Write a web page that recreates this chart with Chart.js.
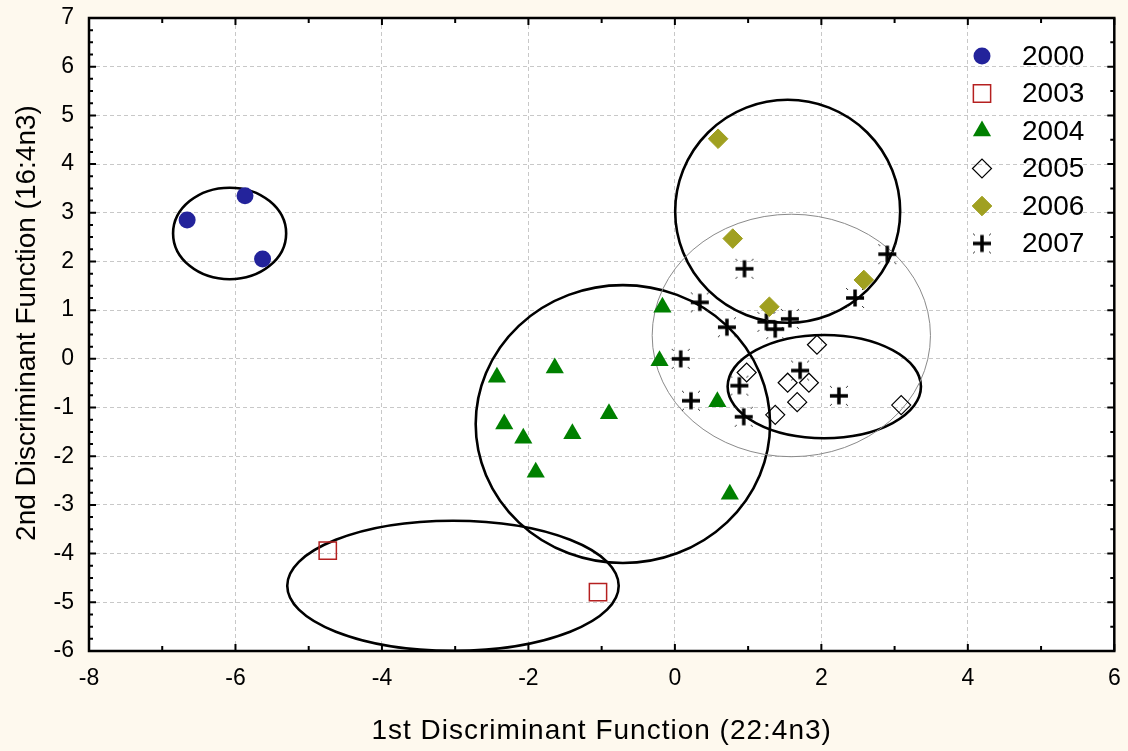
<!DOCTYPE html>
<html>
<head>
<meta charset="utf-8">
<script src="https://cdn.jsdelivr.net/npm/chart.js@4.4.0/dist/chart.umd.min.js"></script>
<style>
  html, body { margin: 0; padding: 0; background: #fef9ee; }
</style>
</head>
<body>
<canvas id="chart" width="1128" height="751"></canvas>
<script>
// group labels
const years = ['2000', '2003', '2004', '2005', '2006', '2007'];

// scores on the two discriminant functions, per year
const x2000 = [-6.66, -5.87, -5.63];
const y2000 = [2.85, 3.35, 2.05];
const x2003 = [-4.74, -1.05];
const y2003 = [-3.94, -4.79];
const x2004 = [-0.17, -0.21, -2.43, -1.64, -0.90, -2.33, -2.07, -1.40, -1.90, 0.58, 0.75];
const y2004 = [1.06, -0.04, -0.38, -0.19, -1.13, -1.34, -1.63, -1.54, -2.33, -0.88, -2.78];
const x2005 = [1.94, 0.98, 1.54, 1.83, 1.67, 1.37, 3.09];
const y2005 = [0.29, -0.28, -0.49, -0.49, -0.89, -1.15, -0.95];
const x2006 = [0.59, 0.79, 1.29, 2.58];
const y2006 = [4.52, 2.47, 1.07, 1.62];
const x2007 = [2.90, 0.95, 0.34, 2.46, 0.71, 1.25, 1.57, 1.37, 0.08, 0.22, 1.71, 0.88, 0.94, 2.24];
const y2007 = [2.15, 1.85, 1.16, 1.25, 0.65, 0.76, 0.82, 0.61, 0.00, -0.86, -0.24, -0.55, -1.19, -0.76];

// group ellipses (center and semi axes), same order as years
const ellipseCx = [-6.08, -3.03, -0.71, 2.04, 1.54, 1.59];
const ellipseCy = [2.575, -4.66, -1.34, -0.57, 3.03, 0.48];
const ellipseRx = [0.772, 2.263, 2.01, 1.32, 1.536, 1.90];
const ellipseRy = [0.94, 1.335, 2.854, 1.06, 2.29, 2.49];

// axis ticks
const xTicks = [-8, -6, -4, -2, 0, 2, 4, 6];
const yTicks = [-6, -5, -4, -3, -2, -1, 0, 1, 2, 3, 4, 5, 6, 7];

const FONT = "'Liberation Sans', Arial, sans-serif";

function zip(xs, ys) {
    return xs.map((v, i) => ({ x: v, y: ys[i] }));
}

// bold plus with the little dashes around it
function makeStar() {
    const c = document.createElement('canvas');
    c.width = 26;
    c.height = 26;
    const g = c.getContext('2d');
    g.strokeStyle = '#000';
    g.lineWidth = 3.5;
    g.beginPath();
    g.moveTo(13, 4.5); g.lineTo(13, 21.5);
    g.moveTo(4, 13); g.lineTo(22, 13);
    g.stroke();
    g.strokeStyle = '#333';
    g.lineWidth = 1;
    [[-1, -1], [1, -1], [-1, 1], [1, 1]].forEach(([dx, dy]) => {
        g.beginPath();
        g.moveTo(13 + dx * 7, 13 + dy * 8);
        g.lineTo(13 + dx * 9, 13 + dy * 10);
        g.stroke();
    });
    return c;
}
const star = makeStar();

const datasets = [
    { label: years[0], data: zip(x2000, y2000), pointStyle: 'circle', pointRadius: 8.5,
      backgroundColor: '#23239b', borderColor: '#23239b', borderWidth: 0 },
    { label: years[1], data: zip(x2003, y2003), pointStyle: 'rect', pointRadius: 12.2,
      backgroundColor: 'rgba(0,0,0,0)', borderColor: '#b52020', borderWidth: 1.5 },
    { label: years[2], data: zip(x2004, y2004), pointStyle: 'triangle', pointRadius: 10.5,
      backgroundColor: '#008000', borderColor: '#008000', borderWidth: 0 },
    { label: years[3], data: zip(x2005, y2005), pointStyle: 'rectRot', pointRadius: 9.5,
      backgroundColor: 'rgba(0,0,0,0)', borderColor: '#000', borderWidth: 1.2 },
    { label: years[4], data: zip(x2006, y2006), pointStyle: 'rectRot', pointRadius: 9.8,
      backgroundColor: '#a0a020', borderColor: '#a0a020', borderWidth: 1 },
    { label: years[5], data: zip(x2007, y2007), pointStyle: star, pointRadius: 10,
      backgroundColor: '#000', borderColor: '#000', borderWidth: 0 }
];

const decor = {
    id: 'decor',
    beforeDraw(chart) {
        const { ctx, chartArea: a } = chart;
        ctx.save();
        ctx.fillStyle = '#fef9ee';
        ctx.fillRect(0, 0, chart.width, chart.height);
        ctx.fillStyle = '#fff';
        ctx.fillRect(a.left, a.top, a.right - a.left, a.bottom - a.top);
        ctx.restore();
    },
    beforeDatasetsDraw(chart) {
        const { ctx, chartArea: a, scales: { x, y } } = chart;
        ctx.save();
        ctx.beginPath();
        ctx.rect(a.left, a.top, a.right - a.left, a.bottom - a.top);
        ctx.clip();
        ellipseCx.forEach((cx, i) => {
            const px = x.getPixelForValue(cx);
            const py = y.getPixelForValue(ellipseCy[i]);
            const rx = Math.abs(x.getPixelForValue(cx + ellipseRx[i]) - px);
            const ry = Math.abs(y.getPixelForValue(ellipseCy[i] + ellipseRy[i]) - py);
            ctx.beginPath();
            ctx.ellipse(px, py, rx, ry, 0, 0, Math.PI * 2);
            // 2007 ellipse is the thin grey one
            ctx.lineWidth = i === 5 ? 1 : 2.6;
            ctx.strokeStyle = i === 5 ? '#8a8a8a' : '#000';
            ctx.stroke();
        });
        ctx.restore();
    },
    afterDraw(chart) {
        const { ctx, chartArea: a, scales: { x, y } } = chart;
        ctx.save();

        // small inward tick marks on all four sides
        ctx.strokeStyle = '#000';
        ctx.lineWidth = 2;
        ctx.beginPath();
        for (let v = -8; v <= 6; v += 1) {
            const px = x.getPixelForValue(v);
            const len = v % 2 === 0 ? 7 : 5;
            ctx.moveTo(px, a.bottom); ctx.lineTo(px, a.bottom - len);
            ctx.moveTo(px, a.top); ctx.lineTo(px, a.top + len);
        }
        for (let v = -6; v <= 7; v += 0.25) {
            const py = y.getPixelForValue(v);
            const len = Number.isInteger(v) ? 7 : 4;
            ctx.moveTo(a.left, py); ctx.lineTo(a.left + len, py);
            if (v * 2 === Math.round(v * 2)) {
                ctx.moveTo(a.right, py); ctx.lineTo(a.right - len, py);
            }
        }
        ctx.stroke();

        // plot frame
        ctx.lineWidth = 2.5;
        ctx.strokeRect(a.left, a.top, a.right - a.left, a.bottom - a.top);

        // legend inside the plot
        const lx = 982;
        let ly = 56;
        chart.data.datasets.forEach(ds => {
            ctx.fillStyle = ds.backgroundColor;
            ctx.strokeStyle = ds.borderColor;
            ctx.lineWidth = ds.borderWidth;
            Chart.helpers.drawPoint(ctx, {
                pointStyle: ds.pointStyle, radius: ds.pointRadius,
                rotation: 0, borderWidth: ds.borderWidth
            }, lx, ly);
            ctx.fillStyle = '#000';
            ctx.font = '28px ' + FONT;
            ctx.textAlign = 'left';
            ctx.textBaseline = 'middle';
            ctx.fillText(ds.label, 1022, ly + 1);
            ly += 37.5;
        });

        // axis titles
        ctx.fillStyle = '#000';
        ctx.font = '28px ' + FONT;
        ctx.textAlign = 'center';
        ctx.textBaseline = 'alphabetic';
        ctx.letterSpacing = '1px';
        ctx.fillText('1st Discriminant Function (22:4n3)', (a.left + a.right) / 2, 739);
        ctx.letterSpacing = '0px';
        ctx.translate(35, 323);
        ctx.rotate(-Math.PI / 2);
        ctx.fillText('2nd Discriminant Function (16:4n3)', 0, 0);
        ctx.restore();
    }
};

const ctx = document.getElementById('chart').getContext('2d');
new Chart(ctx, {
    type: 'scatter',
    data: { datasets: datasets },
    options: {
        responsive: false,
        animation: false,
        layout: { padding: { left: 0, right: 11, top: 18, bottom: 0 } },
        plugins: { legend: { display: false }, tooltip: { enabled: false } },
        scales: {
            x: {
                type: 'linear',
                min: xTicks[0],
                max: xTicks[xTicks.length - 1],
                afterBuildTicks: s => { s.ticks = xTicks.map(v => ({ value: v })); },
                ticks: { color: '#000', padding: 14, font: { family: FONT, size: 23 } },
                grid: { color: '#c8c8c8', lineWidth: 1, drawTicks: false },
                border: { display: false, dash: [4, 3] },
                afterFit: s => {
                    s.height = 100;
                    s.paddingLeft = 0;
                    s.paddingRight = 0;
                }
            },
            y: {
                type: 'linear',
                min: yTicks[0],
                max: yTicks[yTicks.length - 1],
                afterBuildTicks: s => { s.ticks = yTicks.map(v => ({ value: v })); },
                ticks: { color: '#000', padding: 15, font: { family: FONT, size: 23 } },
                grid: { color: '#c8c8c8', lineWidth: 1, drawTicks: false },
                border: { display: false, dash: [4, 3] },
                afterFit: s => {
                    s.width = 89;
                    s.paddingTop = 0;
                    s.paddingBottom = 0;
                }
            }
        }
    },
    plugins: [decor]
});
</script>
</body>
</html>
